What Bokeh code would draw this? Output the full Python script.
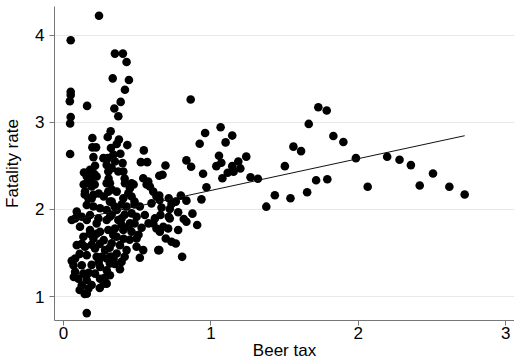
from bokeh.plotting import figure
from bokeh.models import FixedTicker, Range1d
from bokeh.embed import file_html
from bokeh.resources import INLINE

# Beer tax (x) and fatality rate (y)
beer_tax = [
    0.049, 0.049, 0.049, 0.043, 0.049, 0.045, 0.045,
    0.241, 0.160, 0.349, 0.403, 0.428, 0.334, 0.444, 0.417, 0.388, 0.345, 0.372, 0.863,
    0.320, 0.300, 0.376, 0.361, 0.433, 0.322, 0.338, 0.386, 0.271, 0.300, 0.349, 0.401, 0.327, 0.372, 0.406,
    0.196, 0.196, 0.221, 0.203, 0.214, 0.180, 0.139, 0.210,
    0.545, 0.525, 0.568,
    0.961, 1.066, 1.145, 1.100, 1.055, 1.071, 1.037, 1.145, 1.186, 1.240, 1.200, 1.154, 1.114, 1.078,
    1.269, 1.319, 0.970, 1.502, 1.560, 1.612, 1.664, 1.729, 1.786, 1.831, 1.899, 1.984, 1.714, 1.790,
    1.653, 1.434, 1.540, 1.376, 2.196, 2.280, 2.357, 2.507, 2.064, 2.417, 2.618, 2.722,
    0.924, 0.692, 0.672, 0.650, 0.834, 0.866, 0.947, 0.936, 0.650, 0.714, 0.796, 0.834, 0.733, 0.762,
    0.665, 0.721, 0.658, 0.778, 0.875, 0.714, 0.816,
    0.721, 0.677, 0.710, 0.778, 0.834, 0.907, 0.654, 0.694, 0.733, 0.762, 0.650, 0.805,
    0.315, 0.417, 0.462, 0.575, 0.586, 0.451, 0.361, 0.440, 0.609, 0.406, 0.327, 0.597, 0.428, 0.518,
    0.361, 0.652, 0.462, 0.552, 0.315, 0.394, 0.620,
    0.293, 0.304, 0.158, 0.191, 0.146, 0.203, 0.169, 0.293, 0.304, 0.273, 0.315, 0.158, 0.203, 0.248,
    0.293, 0.090, 0.124, 0.180, 0.237, 0.293, 0.056,
    0.079, 0.158, 0.225, 0.112, 0.180, 0.248, 0.304, 0.135, 0.203, 0.273, 0.146, 0.214, 0.282, 0.158,
    0.225, 0.079, 0.293, 0.068, 0.124, 0.248, 0.293, 0.079, 0.135, 0.214, 0.101, 0.158, 0.248, 0.273,
    0.124, 0.169, 0.158, 0.158, 0.090, 0.056,
    0.372, 0.451, 0.496, 0.338, 0.406, 0.462, 0.327, 0.383, 0.428, 0.361, 0.320, 0.315, 0.383, 0.315,
    0.293, 0.541, 0.518, 0.643, 0.609, 0.631, 0.349,
    0.564, 0.631, 0.415, 0.476, 0.462, 0.482, 0.306, 0.327, 0.158, 0.191, 0.225, 0.137, 0.212, 0.144,
    0.191, 0.239, 0.347, 0.394, 0.482, 0.327, 0.415, 0.496, 0.394, 0.442, 0.482, 0.530, 0.577, 0.178,
    0.225, 0.361, 0.408, 0.449, 0.509, 0.124, 0.191, 0.246, 0.313, 0.496, 0.110, 0.259, 0.340, 0.415,
    0.191, 0.239, 0.347, 0.394, 0.070, 0.171, 0.279, 0.110, 0.191, 0.246, 0.144, 0.541,
]
fatality_rate = [
    3.943, 3.351, 3.313, 3.243, 3.062, 2.986, 2.636,
    4.224, 3.189, 3.789, 3.789, 3.693, 3.505, 3.486, 3.374, 3.235, 3.159, 3.070, 3.263,
    2.897, 2.832, 2.802, 2.751, 2.739, 2.705, 2.629, 2.640, 2.589, 2.589, 2.551, 2.532, 2.474, 2.436, 2.436,
    2.820, 2.713, 2.713, 2.601, 2.502, 2.456, 2.424, 2.405,
    2.678, 2.543, 2.543,
    2.878, 2.943, 2.848, 2.770, 2.617, 2.536, 2.497, 2.497, 2.551, 2.606, 2.471, 2.433, 2.421, 2.359,
    2.370, 2.352, 2.255, 2.497, 2.721, 2.670, 2.982, 3.174, 3.136, 2.843, 2.774, 2.589, 2.336, 2.347,
    2.197, 2.163, 2.128, 2.032, 2.606, 2.571, 2.509, 2.413, 2.260, 2.275, 2.260, 2.171,
    2.755, 2.505, 2.398, 2.386, 2.563, 2.490, 2.409, 2.116, 2.159, 2.128, 2.159, 2.101, 2.063, 2.090,
    2.021, 2.006, 1.937, 1.967, 1.952, 1.917, 1.890,
    1.897, 1.802, 1.782, 1.764, 1.859, 1.821, 1.744, 1.667, 1.629, 1.609, 1.533, 1.456,
    2.300, 2.300, 2.300, 2.320, 2.263, 2.244, 2.205, 2.186, 2.205, 2.128, 2.090, 2.070, 2.033, 2.033,
    1.994, 2.110, 1.955, 1.937, 1.917, 1.897, 1.897,
    2.510, 2.436, 2.300, 2.263, 2.205, 2.167, 2.128, 2.300, 2.205, 2.148, 2.090, 2.052, 2.033, 2.013,
    1.994, 1.975, 1.917, 1.937, 1.897, 1.878, 1.878,
    1.897, 1.878, 1.840, 1.802, 1.764, 1.744, 1.764, 1.687, 1.667, 1.648, 1.571, 1.552, 1.533, 1.475,
    1.456, 1.437, 1.437, 1.360, 1.360, 1.341, 1.302, 1.283, 1.263, 1.263, 1.205, 1.187, 1.205, 1.148,
    1.130, 1.090, 1.032, 0.810, 1.590, 1.410,
    1.878, 1.840, 1.667, 1.706, 1.764, 1.744, 1.610, 1.590, 1.533, 1.494, 1.460, 1.379, 1.313, 1.244,
    1.148, 1.533, 1.445, 1.533, 1.840, 1.782, 1.782,
    2.286, 2.148, 2.356, 2.286, 2.148, 2.090, 2.356, 2.229, 2.379, 2.356, 2.379, 2.286, 2.286, 2.171,
    2.125, 2.183, 2.033, 2.056, 2.056, 1.940, 1.940, 1.917, 1.825, 1.802, 1.840, 1.790, 1.840, 1.720,
    1.720, 1.687, 1.663, 1.652, 1.710, 1.605, 1.594, 1.605, 1.560, 1.571, 1.490, 1.456, 1.433, 1.456,
    1.364, 1.398, 1.375, 1.398, 1.225, 1.272, 1.214, 1.075, 1.133, 1.098, 1.030, 2.358,
]

# Fitted regression line (intercept, slope)
fit_intercept = 1.853
fit_slope = 0.365

x_ticks = [0, 1, 2, 3]
y_ticks = [1, 2, 3, 4]

FONT = "Liberation Sans"

p = figure(width=514, height=362, output_backend="svg", toolbar_location=None,
           x_range=Range1d(-0.061, 3.06), y_range=Range1d(0.725, 4.33),
           min_border_left=53, min_border_right=0, min_border_top=6, min_border_bottom=0,
           background_fill_color="white", border_fill_color="white")
p.outline_line_color = None

p.scatter(beer_tax, fatality_rate, size=8.6, color="black", line_color=None)

x0, x1 = min(beer_tax), max(beer_tax)
p.line([x0, x1], [fit_intercept + fit_slope * x0, fit_intercept + fit_slope * x1],
       line_color="#111111", line_width=1)

p.xaxis.ticker = FixedTicker(ticks=x_ticks)
p.yaxis.ticker = FixedTicker(ticks=y_ticks)
p.xgrid.grid_line_color = None
p.ygrid.grid_line_color = "#e8e8e8"
p.ygrid.grid_line_width = 1

for ax in (p.xaxis[0], p.yaxis[0]):
    ax.axis_line_color = "#777777"
    ax.major_tick_line_color = "#777777"
    ax.minor_tick_line_color = None
    ax.major_tick_in = 0
    ax.major_tick_out = 5
    ax.major_label_text_font = FONT
    ax.major_label_text_font_size = "17px"
    ax.major_label_text_color = "black"
    ax.axis_label_text_font = FONT
    ax.axis_label_text_font_size = "17px"
    ax.axis_label_text_font_style = "normal"
    ax.axis_label_text_color = "black"

p.xaxis.axis_label = "Beer tax"
p.yaxis.axis_label = "Fatality rate"
p.xaxis.major_label_standoff = 1
p.xaxis.axis_label_standoff = -1
p.yaxis.major_label_standoff = 5
p.yaxis.axis_label_standoff = 10

open("out.html", "w").write(file_html(p, INLINE))
